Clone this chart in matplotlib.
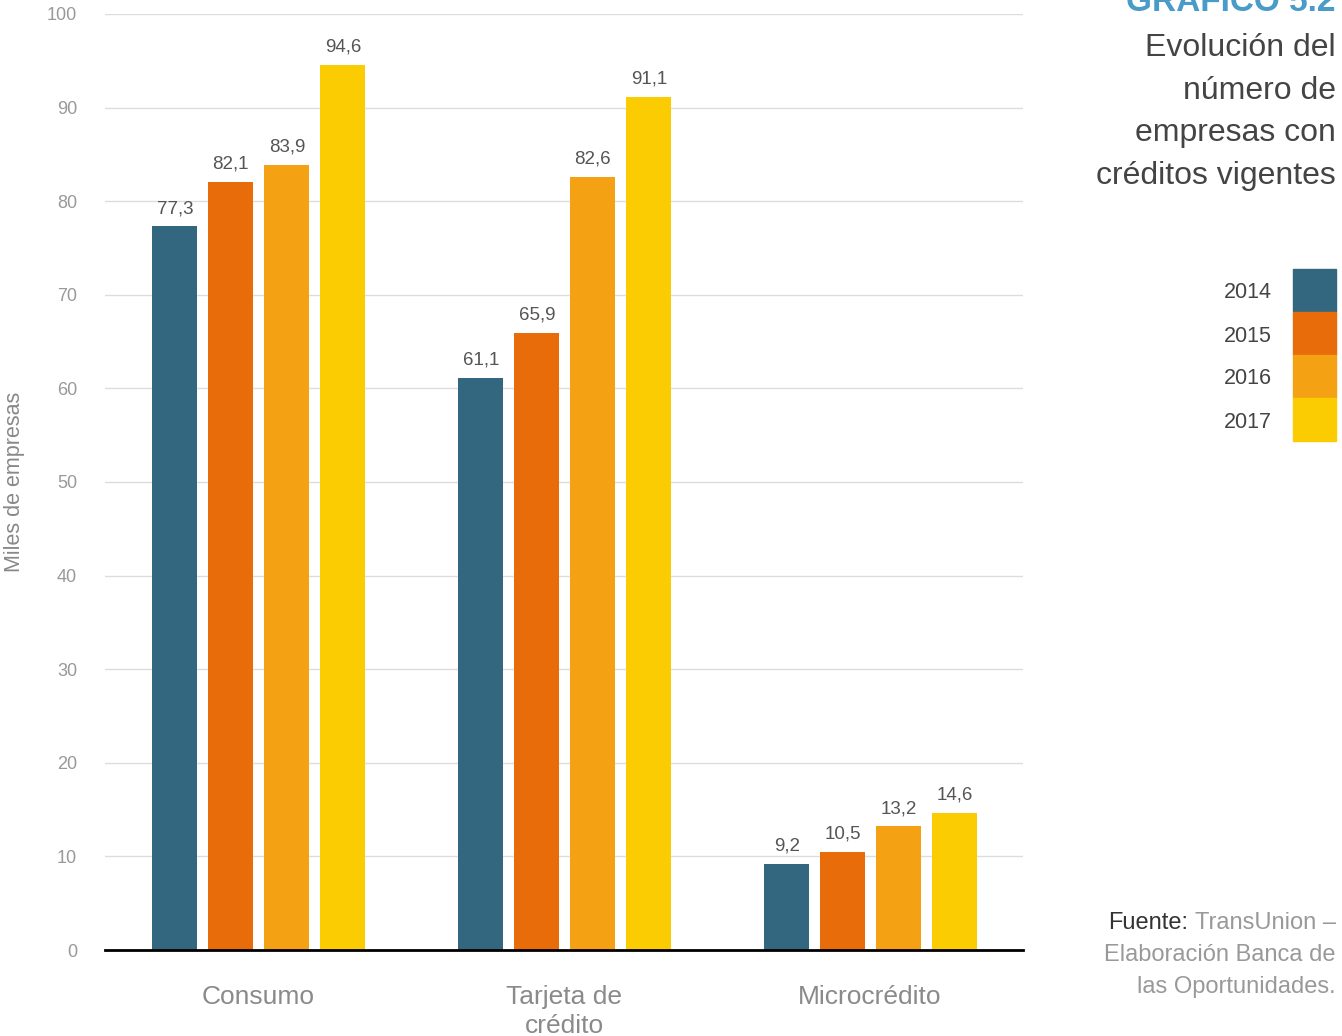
import matplotlib
matplotlib.use('Agg')
import matplotlib.pyplot as plt
import numpy as np

plt.rcParams['font.family'] = ['Liberation Sans', 'DejaVu Sans']

categories = ['Consumo', 'Tarjeta de\ncrédito', 'Microcrédito']
years = ['2014', '2015', '2016', '2017']
v2014 = [77.3, 61.1, 9.2]
v2015 = [82.1, 65.9, 10.5]
v2016 = [83.9, 82.6, 13.2]
v2017 = [94.6, 91.1, 14.6]
colors = ['#33677f', '#e86c0a', '#f4a213', '#fccc02']

series = [v2014, v2015, v2016, v2017]

fig = plt.figure(figsize=(13.42, 10.36), dpi=100)
ax = fig.add_axes([0.0782, 0.083, 0.6841, 0.9035])

x = np.arange(len(categories))
width = 0.147
step = 0.183
for i, vals in enumerate(series):
    pos = x + (i - 1.5) * step + 0.003
    ax.bar(pos, vals, width, color=colors[i], zorder=3)
    for p, v in zip(pos, vals):
        ax.text(p, v + 1.0, f'{v:.1f}'.replace('.', ','), ha='center', va='bottom',
                fontsize=13.5, color='#555555')

ax.set_xlim(-0.5, 2.5)
ax.set_ylim(0, 100)
ax.set_yticks(range(0, 101, 10))
ax.yaxis.grid(True, color='#dddddd', linewidth=1, zorder=0)
ax.set_xticks(x)
ax.set_xticklabels(categories, fontsize=19, color='#8a8a8a', linespacing=1.3)
ax.tick_params(axis='x', length=0, pad=25)
ax.tick_params(axis='y', length=0, labelsize=13, labelcolor='#999999', pad=20)
for s in ['top', 'right', 'left']:
    ax.spines[s].set_visible(False)
ax.spines['bottom'].set_color('black')
ax.spines['bottom'].set_linewidth(2)
ax.spines['bottom'].set_zorder(4)
ax.set_ylabel('Miles de empresas', fontsize=15.5, color='#888888', labelpad=16)

# title block
fig.text(0.9955, 0.9975, 'GRÁFICO 5.2', ha='right', va='center', fontsize=24,
         fontweight='bold', color='#4a9cc8')
fig.text(0.9955, 0.968, 'Evolución del\nnúmero de\nempresas con\ncréditos vigentes',
         ha='right', va='top', fontsize=23, color='#444444', linespacing=1.55)

# legend
for i, yr in enumerate(years):
    top = 269 + i * 43
    fig.patches.append(plt.Rectangle((1293 / 1342, 1 - (top + 43) / 1036), 43 / 1342, 43 / 1036,
                                     transform=fig.transFigure, color=colors[i]))
    fig.text(1272 / 1342, 1 - (top + 24) / 1036, yr, ha='right', va='center',
             fontsize=15.5, color='#444444')

# source
src = fig.text(0.9955, 1 - 923 / 1036, 'TransUnion –', ha='right', va='center', fontsize=17, color='#999999')
fig.canvas.draw()
bb = src.get_window_extent(fig.canvas.get_renderer())
fig.text((bb.x0 - 7) / 1342, 1 - 923 / 1036, 'Fuente:', ha='right', va='center', fontsize=17, color='#333333')
fig.text(0.9955, 1 - 955 / 1036, 'Elaboración Banca de', ha='right', va='center', fontsize=17, color='#999999')
fig.text(0.9955, 1 - 987 / 1036, 'las Oportunidades.', ha='right', va='center', fontsize=17, color='#999999')

plt.savefig('out.png', dpi=100)
